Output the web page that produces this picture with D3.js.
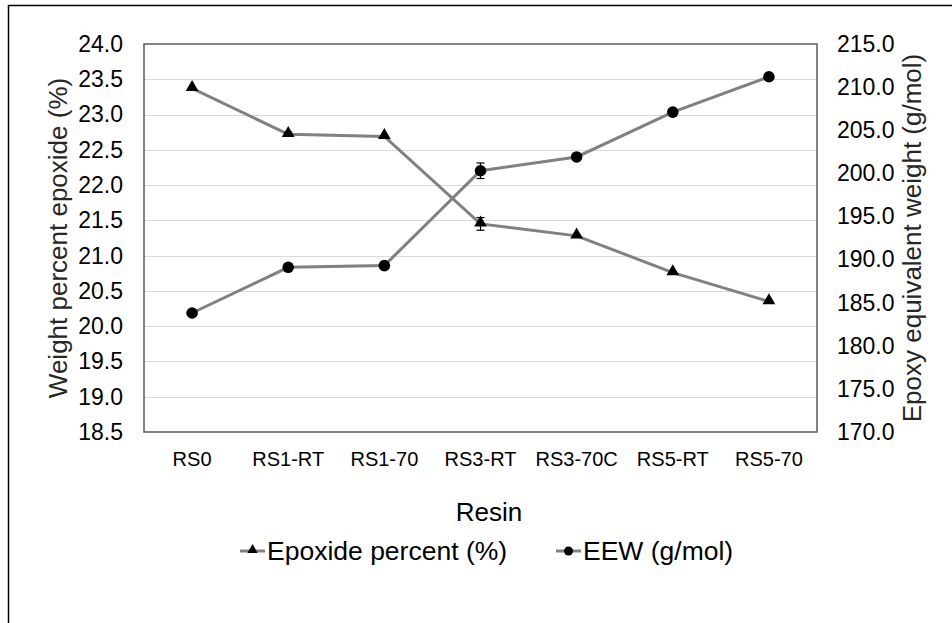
<!DOCTYPE html>
<html>
	<head>
		<script src="https://cdn.jsdelivr.net/npm/d3@7/dist/d3.min.js" charset="UTF-8"></script>
		<style type="text/css">
			body { margin: 0; background: #fff; }
			svg { display: block; font-family: "Liberation Sans", Arial, sans-serif; }
			.grid line { stroke: #d9d9d9; stroke-width: 1.5; shape-rendering: crispEdges; }
			.axis path, .axis line { display: none; }
			.axis text { fill: #000; font-family: "Liberation Sans", Arial, sans-serif; }
		</style>
	</head>
	<body>
		<script type="text/javascript">
			var width = 952;
			var height = 623;

			var resins = ["RS0", "RS1-RT", "RS1-70", "RS3-RT", "RS3-70C", "RS5-RT", "RS5-70"];
			var epoxidePct = [23.37, 22.72, 22.69, 21.45, 21.28, 20.76, 20.35];
			var epoxideErr = [0, 0.03, 0, 0.09, 0, 0, 0];
			var eew = [183.8, 189.1, 189.3, 200.3, 201.9, 207.1, 211.2];
			var eewErr = [0, 0, 0, 0.9, 0, 0, 0];
			var leftTicks = [18.5, 19.0, 19.5, 20.0, 20.5, 21.0, 21.5, 22.0, 22.5, 23.0, 23.5, 24.0];
			var rightTicks = [170, 175, 180, 185, 190, 195, 200, 205, 210, 215];

			var plot = {left: 144, top: 44, right: 817, bottom: 432};

			var svg = d3.select("body")
				.append("svg")
				.attr("width", width)
				.attr("height", height);

			// outer frame (only top/left edges fall inside the picture)
			svg.append("rect")
				.attr("x", 8.5).attr("y", 5.5)
				.attr("width", width).attr("height", height)
				.attr("fill", "none")
				.attr("stroke", "#000")
				.attr("stroke-width", 1.5);

			var xScale = d3.scaleBand()
				.domain(resins)
				.range([plot.left, plot.right]);

			var yLeft = d3.scaleLinear()
				.domain([18.5, 24.0])
				.range([plot.bottom, plot.top]);

			var yRight = d3.scaleLinear()
				.domain([170, 215])
				.range([plot.bottom, plot.top]);

			var cx = function(d, i) { return xScale(resins[i]) + xScale.bandwidth() / 2; };

			// gridlines
			svg.append("g").attr("class", "grid")
				.selectAll("line")
				.data(leftTicks.slice(1, -1))
				.enter().append("line")
				.attr("x1", plot.left).attr("x2", plot.right)
				.attr("y1", function(d) { return Math.round(yLeft(d)) + 0.5; })
				.attr("y2", function(d) { return Math.round(yLeft(d)) + 0.5; });

			// plot frame
			svg.append("rect")
				.attr("x", plot.left).attr("y", plot.top)
				.attr("width", plot.right - plot.left)
				.attr("height", plot.bottom - plot.top)
				.attr("fill", "none")
				.attr("stroke", "#595959")
				.attr("stroke-width", 1.5);

			// axes
			var leftAxis = d3.axisLeft(yLeft).tickValues(leftTicks).tickFormat(d3.format(".1f")).tickSize(0).tickPadding(21);
			svg.append("g").attr("class", "axis")
				.attr("transform", "translate(" + plot.left + ",0)")
				.call(leftAxis)
				.selectAll("text").attr("font-size", 23);

			var rightAxis = d3.axisRight(yRight).tickValues(rightTicks).tickFormat(d3.format(".1f")).tickSize(0).tickPadding(20);
			svg.append("g").attr("class", "axis")
				.attr("transform", "translate(" + plot.right + ",0)")
				.call(rightAxis)
				.selectAll("text").attr("font-size", 23);

			var xAxis = d3.axisBottom(xScale).tickSize(0).tickPadding(20);
			svg.append("g").attr("class", "axis")
				.attr("transform", "translate(0," + plot.bottom + ")")
				.call(xAxis)
				.selectAll("text").attr("font-size", 20);

			// axis titles
			svg.append("text")
				.attr("transform", "translate(67," + (plot.top + plot.bottom) / 2 + ") rotate(-90)")
				.attr("text-anchor", "middle")
				.attr("font-size", 26)
				.attr("fill", "#262626")
				.text("Weight percent epoxide (%)");

			svg.append("text")
				.attr("transform", "translate(921," + (plot.top + plot.bottom) / 2 + ") rotate(-90)")
				.attr("text-anchor", "middle")
				.attr("font-size", 26)
				.attr("fill", "#262626")
				.text("Epoxy equivalent weight (g/mol)");

			svg.append("text")
				.attr("x", 489)
				.attr("y", 521)
				.attr("text-anchor", "middle")
				.attr("font-size", 26)
				.attr("fill", "#000")
				.text("Resin");

			var line = d3.line().x(cx);
			var tri = d3.symbol().type(d3.symbolTriangle).size(70);

			// epoxide series (left axis)
			svg.append("path")
				.attr("d", line.y(function(d) { return yLeft(d); })(epoxidePct))
				.attr("fill", "none").attr("stroke", "#808080").attr("stroke-width", 3);

			// EEW series (right axis)
			svg.append("path")
				.attr("d", line.y(function(d) { return yRight(d); })(eew))
				.attr("fill", "none").attr("stroke", "#808080").attr("stroke-width", 3);

			// error bars
			function errorBars(vals, errs, scale) {
				var g = svg.append("g").attr("stroke", "#000").attr("stroke-width", 1.2);
				vals.forEach(function(v, i) {
					if (!errs[i]) return;
					var x = cx(v, i);
					var y1 = scale(v + errs[i]), y2 = scale(v - errs[i]);
					g.append("line").attr("x1", x).attr("x2", x).attr("y1", y1).attr("y2", y2);
					g.append("line").attr("x1", x - 4).attr("x2", x + 4).attr("y1", y1).attr("y2", y1);
					g.append("line").attr("x1", x - 4).attr("x2", x + 4).attr("y1", y2).attr("y2", y2);
				});
			}
			errorBars(epoxidePct, epoxideErr, yLeft);
			errorBars(eew, eewErr, yRight);

			svg.append("g").selectAll("path")
				.data(epoxidePct)
				.enter().append("path")
				.attr("d", tri)
				.attr("transform", function(d, i) { return "translate(" + cx(d, i) + "," + (yLeft(d) - 1) + ")"; })
				.attr("fill", "#000");

			svg.append("g").selectAll("circle")
				.data(eew)
				.enter().append("circle")
				.attr("cx", cx)
				.attr("cy", function(d) { return yRight(d); })
				.attr("r", 5.8)
				.attr("fill", "#000");

			// legend
			var legend = svg.append("g").attr("font-size", 26.5);
			var items = [
				{label: "Epoxide percent (%)", x: 240, marker: "tri"},
				{label: "EEW (g/mol)", x: 556, marker: "dot"}
			];
			items.forEach(function(it) {
				var g = legend.append("g").attr("transform", "translate(" + it.x + ",551)");
				g.append("line").attr("x1", 0).attr("x2", 25).attr("y1", 0).attr("y2", 0)
					.attr("stroke", "#808080").attr("stroke-width", 3);
				if (it.marker === "tri") {
					g.append("path").attr("d", d3.symbol().type(d3.symbolTriangle).size(45)())
						.attr("transform", "translate(12.5,-1)").attr("fill", "#000");
				} else {
					g.append("circle").attr("cx", 12.5).attr("cy", 0).attr("r", 4.5).attr("fill", "#000");
				}
				g.append("text").attr("x", 27).attr("y", 9).attr("fill", "#000").text(it.label);
			});
		</script>
	</body>
</html>
